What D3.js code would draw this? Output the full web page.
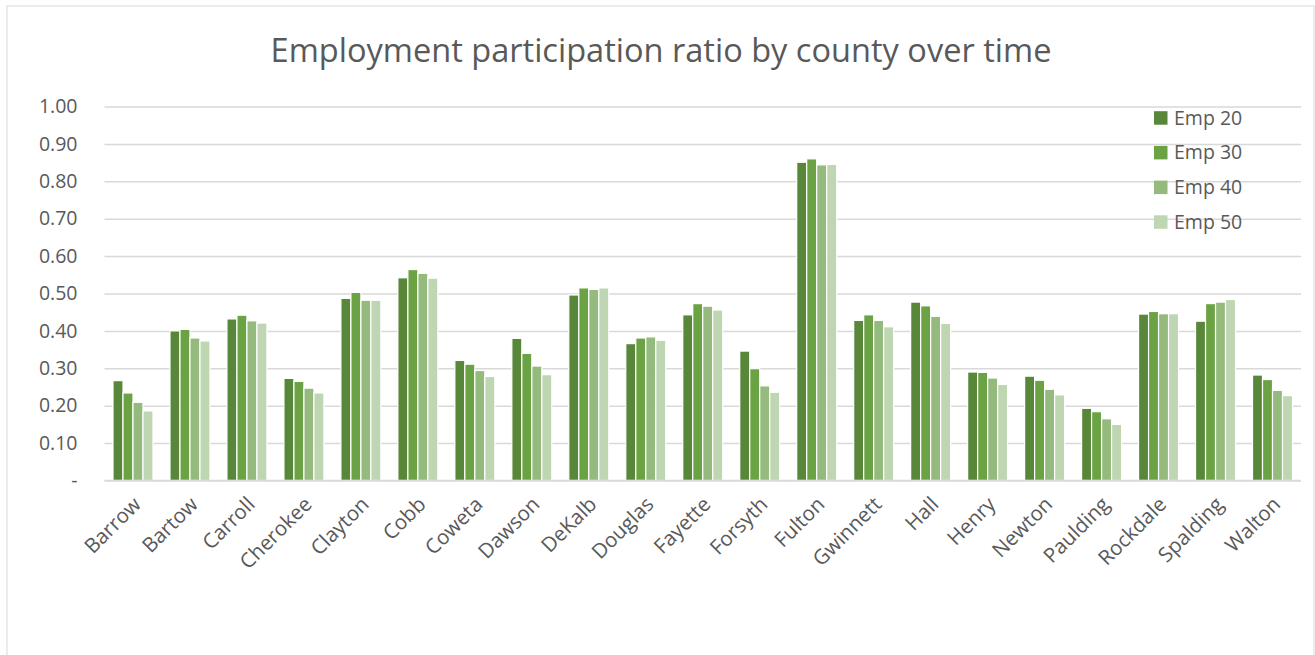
<!DOCTYPE html>
<html>
<head>
<meta charset="utf-8">
<script src="https://cdn.jsdelivr.net/npm/d3@7"></script>
<style>
  html, body { margin: 0; padding: 0; background: #fff; }
  svg { display: block; }
  text { font-family: "Open Sans", "Noto Sans", sans-serif; fill: #595959; }
</style>
</head>
<body>
<svg id="chart" width="1315" height="655"></svg>
<script>
const counties = ["Barrow","Bartow","Carroll","Cherokee","Clayton","Cobb","Coweta","Dawson","DeKalb","Douglas","Fayette","Forsyth","Fulton","Gwinnett","Hall","Henry","Newton","Paulding","Rockdale","Spalding","Walton"];
const seriesNames = ["Emp 20","Emp 30","Emp 40","Emp 50"];
const emp20 = [0.267,0.400,0.432,0.273,0.487,0.542,0.321,0.380,0.496,0.366,0.443,0.346,0.851,0.428,0.477,0.290,0.279,0.193,0.445,0.426,0.282];
const emp30 = [0.234,0.404,0.442,0.265,0.503,0.564,0.311,0.340,0.515,0.381,0.473,0.299,0.860,0.443,0.467,0.289,0.268,0.184,0.452,0.473,0.270];
const emp40 = [0.209,0.381,0.427,0.247,0.482,0.554,0.294,0.306,0.511,0.384,0.466,0.253,0.844,0.428,0.439,0.274,0.244,0.165,0.446,0.477,0.241];
const emp50 = [0.186,0.373,0.421,0.234,0.482,0.541,0.278,0.283,0.515,0.375,0.456,0.236,0.845,0.411,0.420,0.257,0.229,0.150,0.446,0.484,0.227];
const yTicks = [0,0.1,0.2,0.3,0.4,0.5,0.6,0.7,0.8,0.9,1.0];
const colors = ["#58873A","#6BA344","#94BB7D","#BFD6B2"];
const title = "Employment participation ratio by county over time";

const allSeries = [emp20, emp30, emp40, emp50];
const svg = d3.select("#chart");

// chart border
svg.append("rect").attr("x",7).attr("y",6).attr("width",1307).attr("height",660)
  .attr("fill","#fff").attr("stroke","#d9d9d9").attr("stroke-width",1);

const plot = {left:104.5, right:1301, top:106.5, bottom:480.5};
const x = d3.scaleBand().domain(counties).range([plot.left, plot.right]).paddingInner(17/57).paddingOuter(8.5/57);
const xs = d3.scaleBand().domain(seriesNames).range([0, x.bandwidth()]);
const y = d3.scaleLinear().domain([0,1]).range([plot.bottom, plot.top]);

// gridlines
const yAxis = d3.axisLeft(y).tickValues(yTicks).tickSize(-(plot.right-plot.left)).tickPadding(27)
  .tickFormat(d => d === 0 ? "-" : d3.format(".2f")(d));
const gy = svg.append("g").attr("transform",`translate(${plot.left},0)`).call(yAxis);
gy.select(".domain").remove();
gy.selectAll(".tick line").attr("stroke","#d9d9d9").attr("stroke-width",1.5);
gy.selectAll(".tick text").attr("font-size","19.5px").attr("fill","#595959")
  .attr("font-family","'Open Sans', sans-serif");

// bars
const groups = svg.append("g").selectAll("g").data(counties).join("g")
  .attr("transform", d => `translate(${x(d)},0)`);
groups.selectAll("rect").data((d,i) => seriesNames.map((s,j) => ({s, v: allSeries[j][i], j})))
  .join("rect")
  .attr("x", d => xs(d.s))
  .attr("width", xs.bandwidth())
  .attr("y", d => y(d.v))
  .attr("height", d => y(0) - y(d.v))
  .attr("fill", d => colors[d.j])
  .attr("stroke", "#fff").attr("stroke-width", 1.2);

// x axis line
svg.append("line").attr("x1",plot.left).attr("x2",plot.right).attr("y1",plot.bottom).attr("y2",plot.bottom)
  .attr("stroke","#d9d9d9").attr("stroke-width",1.5);

// x labels
svg.append("g").selectAll("text").data(counties).join("text")
  .attr("transform", d => `translate(${x(d)+x.bandwidth()/2-1},${plot.bottom+15}) rotate(-45)`)
  .attr("text-anchor","end")
  .attr("dy","0.7em")
  .attr("font-size","20.5px")
  .text(d => d);

// title
const t = svg.append("text").attr("x", 661).attr("y", 62).attr("text-anchor","middle")
  .attr("font-size","28px").text(title);
const w = t.node().getComputedTextLength();
t.attr("font-size", (28*781/w).toFixed(2)+"px");

// legend
const leg = svg.append("g").selectAll("g").data(seriesNames).join("g")
  .attr("transform",(d,i)=>`translate(1154,${117.7 + i*34.7})`);
leg.append("rect").attr("x",0).attr("y",-6.5).attr("width",13.5).attr("height",13.5)
  .attr("fill",(d,i)=>colors[i]);
leg.append("text").attr("x",20).attr("dy","0.35em").attr("font-size","19.5px").text(d=>d);
</script>
</body>
</html>
